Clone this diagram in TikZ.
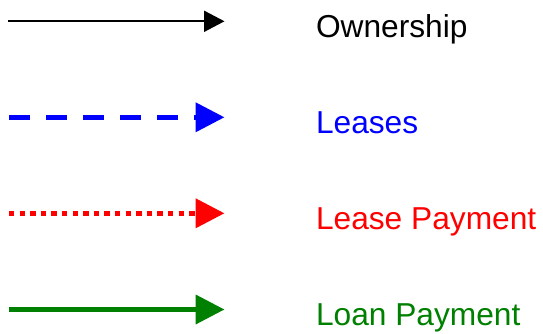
\documentclass[tikz,border=0pt]{standalone}
\usepackage{fontspec}
\setmainfont{Liberation Sans}
\usetikzlibrary{arrows.meta}
\definecolor{lgreen}{RGB}{0,128,0}
\definecolor{lblue}{RGB}{0,0,255}
\definecolor{lred}{RGB}{255,0,0}
\begin{document}
\begin{tikzpicture}[x=1pt,y=-1pt,
  lbl/.style={anchor=base west,inner sep=0pt,font=\fontsize{31.7}{38}\selectfont},
  thinarrow/.style={line width=2pt,-{Triangle[length=20.5pt,width=21pt]}},
  thickarrow/.style={line width=5pt,line cap=butt,-{Triangle[length=28.8pt,width=28.5pt]}}]
\useasboundingbox (0,0) rectangle (543,334);
\coordinate (s1) at (8,21.3);   \coordinate (e1) at (224.5,21.3);
\coordinate (s2) at (9,117.3);  \coordinate (e2) at (224.5,117.3);
\coordinate (s3) at (9,213.3);  \coordinate (e3) at (224.5,213.3);
\coordinate (s4) at (9,309.5);  \coordinate (e4) at (224.5,309.5);
\draw[thinarrow,black] (s1) -- (e1);
\draw[thickarrow,lblue,dash pattern=on 21pt off 16pt] (s2) -- (e2);
\draw[thickarrow,lred,dash pattern=on 5.3pt off 5.3pt] (s3) -- (e3);
\draw[thickarrow,lgreen] (s4) -- (e4);
\node[lbl,text=black] (t1) at (315.8,37.3) {Ownership};
\node[lbl,text=lblue] (t2) at (315.8,133.3) {Leases};
\node[lbl,text=lred] (t3) at (315.8,229.3) {Lease Payment};
\node[lbl,text=lgreen] (t4) at (315.8,325.2) {Loan Payment};
\end{tikzpicture}
\end{document}
